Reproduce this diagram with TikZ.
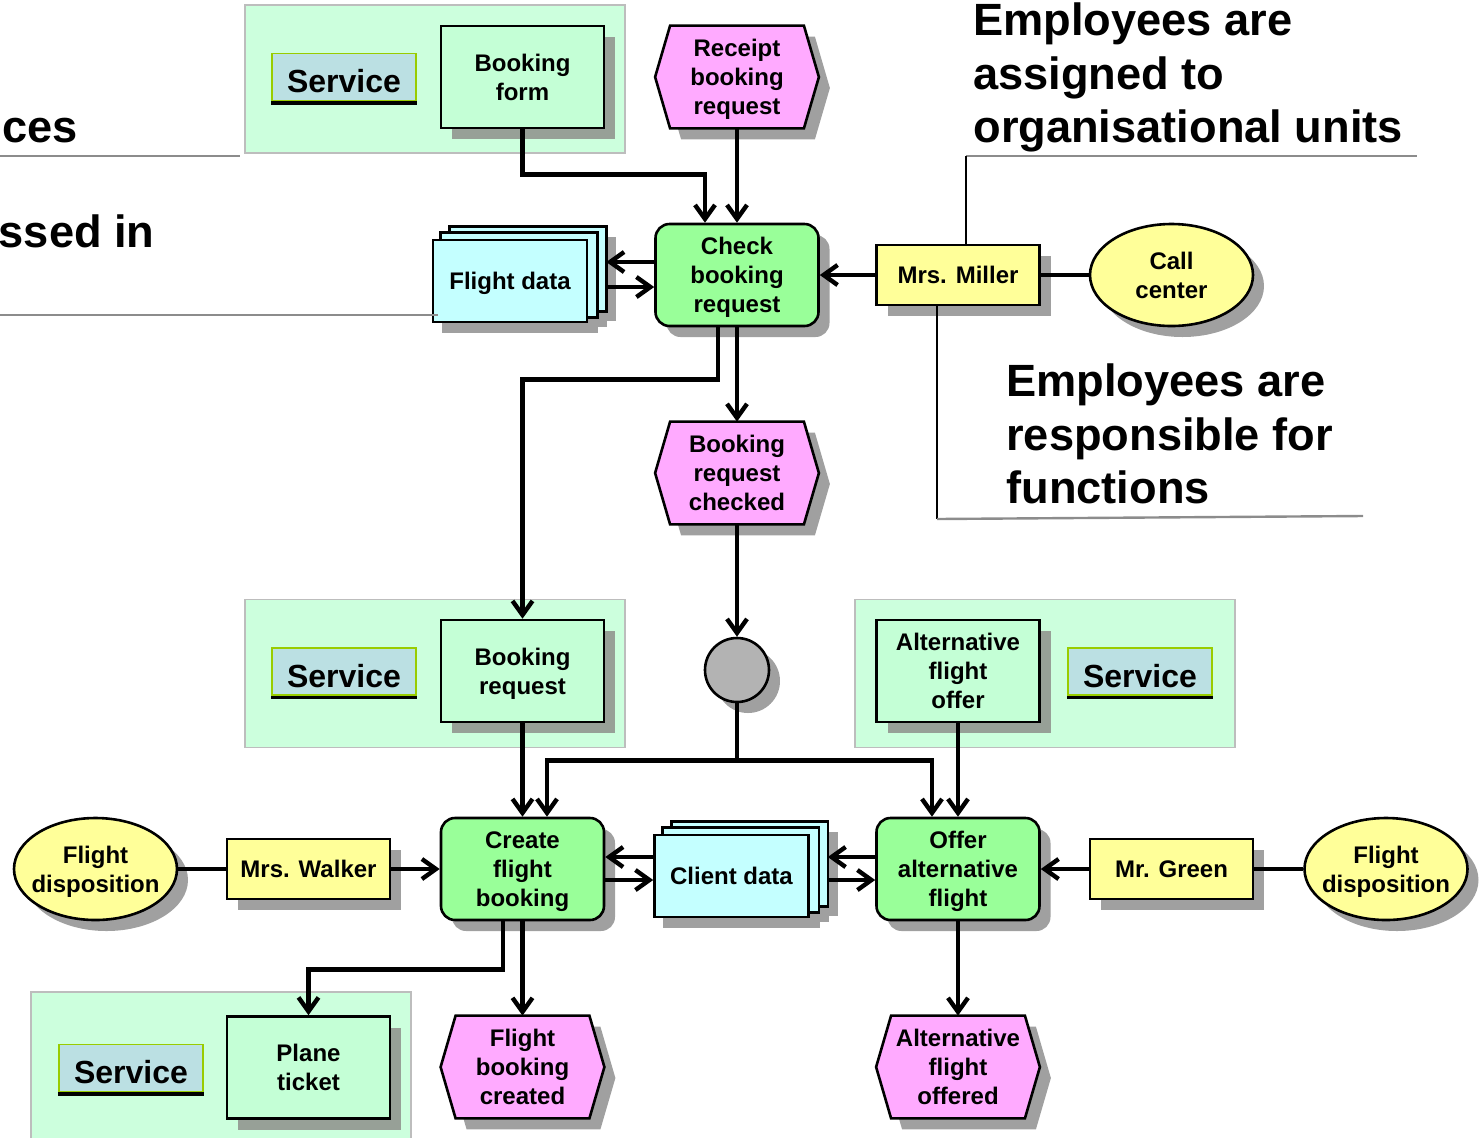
\documentclass[tikz,border=0pt]{standalone}
\usepackage{fontspec}
\setmainfont{Liberation Sans}
\usetikzlibrary{arrows.meta,shapes.geometric,shadows,backgrounds}
\definecolor{areagreen}{HTML}{CCFFDD}
\definecolor{areaborder}{HTML}{BDBDBD}
\definecolor{svcfill}{HTML}{C4FFD6}
\definecolor{lblfill}{HTML}{BBE0E3}
\definecolor{lblborder}{HTML}{99CC00}
\definecolor{fngreen}{HTML}{99FF99}
\definecolor{evpink}{HTML}{FFAAFF}
\definecolor{datacyan}{HTML}{C4FFFF}
\definecolor{orgyellow}{HTML}{FFFF99}
\definecolor{shd}{HTML}{A0A0A0}
\definecolor{shdg}{HTML}{97A097}
\definecolor{conngray}{HTML}{B3B3B3}
\definecolor{annot}{HTML}{8C8C8C}
\begin{document}
\begin{tikzpicture}[x=0.5pt,y=-0.5pt,
  txt/.style={font=\fontsize{12}{14.5}\selectfont\bfseries, align=center, inner sep=0pt, text depth=-0.4pt},
  shadowed/.style={drop shadow={shadow xshift=5.5pt,shadow yshift=-5.5pt,fill=#1,opacity=1}},
  shadowed/.default=shd,
  border/.style={draw=black, line width=1.3pt},
  area/.style={draw=areaborder, line width=0.8pt, fill=areagreen, minimum width=190pt, minimum height=74pt, inner sep=0pt},
  svclabel/.style={draw=lblborder, line width=0.7pt, fill=lblfill, minimum width=72pt, minimum height=23.5pt, inner sep=0pt, text height=15.5pt, text depth=0pt, font=\fontsize{16}{19}\selectfont\bfseries},
  svcbox/.style={txt, border, fill=svcfill, minimum width=81.5pt, minimum height=51pt, shadowed=shdg},
  func/.style={txt, border, fill=fngreen, rounded corners=7pt, minimum width=81.5pt, minimum height=51pt, shadowed},
  evt/.style={txt, minimum width=81.5pt, minimum height=51pt},
  hexline/.style={border, fill=evpink, shadowed},
  org/.style={txt, border, fill=orgyellow, minimum width=81.5pt, minimum height=30pt, shadowed},
  unit/.style={border, ellipse, fill=orgyellow, minimum width=81.5pt, minimum height=51pt, inner sep=0pt, shadowed},
  datanode/.style={txt, border, fill=datacyan, minimum width=77pt, minimum height=41pt},
  sheet/.style={border, fill=datacyan},
  conn/.style={line width=2.2pt, -{Straight Barb[length=7pt,width=10pt]}},
  link/.style={line width=2.2pt},
  annotline/.style={draw=annot, line width=1.2pt},
  thinline/.style={draw=black, line width=0.8pt},
  big/.style={font=\fontsize{22.6}{27}\selectfont\bfseries, inner sep=0pt}
]
\useasboundingbox (0,0) rectangle (1479,1137);

% service areas
\node[area] (a1) at (435,79) {};
\node[area] (a2) at (435,673.5) {};
\node[area] (a3) at (1045,673.5) {};
\node[area] (a4) at (221,1066) {};

% service labels
\node[svclabel] (sl1) at (344,77) {Service};
\node[svclabel] (sl2) at (344,671.5) {Service};
\node[svclabel] (sl3) at (1140,671.5) {Service};
\node[svclabel] (sl4) at (131,1068) {Service};
\foreach \s in {sl1,sl2,sl3,sl4}
  \draw[line width=1.8pt] ([yshift=-0.9pt]\s.south west) -- ([yshift=-0.9pt]\s.south east);

% service objects
\node[svcbox] (sb1) at (522.5,77) {Booking\\form};
\node[svcbox] (sb2) at (522.5,671) {Booking\\request};
\node[svcbox] (sb3) at (958,671) {Alternative\\flight\\offer};
\node[svcbox] (sb4) at (308.5,1067.5) {Plane\\ticket};

% functions
\node[func] (f1) at (737,275) {Check\\booking\\request};
\node[func] (f2) at (522.5,869) {Create\\flight\\booking};
\node[func] (f3) at (958,869) {Offer\\alternative\\flight};

% events
\node[evt] (e1) at (737,77) {Receipt\\booking\\request};
\node[evt] (e2) at (737,473) {Booking\\request\\checked};
\node[evt] (e3) at (522.5,1067) {Flight\\booking\\created};
\node[evt] (e4) at (958,1067) {Alternative\\flight\\offered};

% organisational units
\node[org] (o1) at (958,275) {Mrs. Miller};
\node[org] (o2) at (308.5,869) {Mrs. Walker};
\node[org] (o3) at (1171.5,869) {Mr. Green};
\node[unit, label={[txt]center:{Call\\center}}] (u1) at (1171.5,275) {};
\node[unit, label={[txt]center:{Flight\\disposition}}] (u2) at (95.5,869) {};
\node[unit, label={[txt]center:{Flight\\disposition}}] (u3) at (1386,869) {};

% connector (rule)
\node[circle, border, fill=conngray, minimum size=32pt, inner sep=0pt, shadowed] (c1) at (737,670) {};

% data
\node[datanode] (d1) at (510,281) {Flight data};
\node[datanode] (d2) at (731.5,876) {Client data};
\coordinate (d1r) at ([xshift=9pt]d1.east);
\coordinate (d2r) at ([xshift=9pt]d2.east);

\begin{scope}[on background layer]
  \foreach \e in {e1,e2,e3,e4}
    \path[hexline] (\e.west) -- ([xshift=7.5pt]\e.north west) -- ([xshift=-7.5pt]\e.north east)
      -- (\e.east) -- ([xshift=-7.5pt]\e.south east) -- ([xshift=7.5pt]\e.south west) -- cycle;
  \foreach \d in {d1,d2} {
    \foreach \sx/\sy in {5/-5,9.5/-2,14/1}
      \fill[shd] ([shift={(\sx pt,\sy pt)}]\d.south west) rectangle ([shift={(\sx pt,\sy pt)}]\d.north east);
    \path[sheet] ([shift={(9pt,6pt)}]\d.south west) rectangle ([shift={(9pt,6pt)}]\d.north east);
    \path[sheet] ([shift={(4.5pt,3pt)}]\d.south west) rectangle ([shift={(4.5pt,3pt)}]\d.north east);
  }
\end{scope}

% connectors
\draw[conn] (sb1.south) -- ++(0,45) -| ([xshift=-16pt]f1.north);
\draw[conn] (e1.south) -- (f1.north);
\draw[conn] ([yshift=6.5pt]f1.west) -- ([yshift=6.5pt]f1.west -| d1r);
\draw[conn] ([yshift=-6pt]f1.west -| d1r) -- ([yshift=-6pt]f1.west);
\draw[conn] (o1.west) -- (f1.east);
\draw[link] (o1.east) -- (u1.west);
\draw[conn] (f1.south) -- (e2.north);
\draw[conn] ([xshift=-9.5pt]f1.south) -- ++(0,52) -| (sb2.north);
\draw[conn] (e2.south) -- (c1.north);
\draw[conn] (sb2.south) -- (f2.north);
\draw[conn] (c1.south) -- ++(0,57) -| ([xshift=12.25pt]f2.north);
\draw[conn] (c1.south) -- ++(0,57) -| ([xshift=-13pt]f3.north);
\draw[conn] (sb3.south) -- (f3.north);
\draw[link] (u2.east) -- (o2.west);
\draw[conn] (o2.east) -- (f2.west);
\draw[conn] ([yshift=6pt]f2.east -| d2.west) -- ([yshift=6pt]f2.east);
\draw[conn] ([yshift=-5.5pt]f2.east) -- ([yshift=-5.5pt]f2.east -| d2.west);
\draw[conn] ([yshift=6pt]f3.west) -- ([yshift=6pt]f3.west -| d2r);
\draw[conn] ([yshift=-5.5pt]f3.west -| d2r) -- ([yshift=-5.5pt]f3.west);
\draw[conn] (o3.west) -- (f3.east);
\draw[link] (o3.east) -- (u3.west);
\draw[conn] ([xshift=-9.75pt]f2.south) -- ++(0,48) -| (sb4.north);
\draw[conn] (f2.south) -- (e3.north);
\draw[conn] (f3.south) -- (e4.north);

% annotations
\draw[annotline] (0,156) -- (240,156);
\draw[annotline] (0,315) -- (438,315);
\coordinate (t1) at (966,156);
\draw[annotline] (t1) -- (1417,156);
\draw[thinline] (t1) -- (t1 |- o1.north);
\coordinate (t2) at (937,519);
\draw[thinline] (t2 |- o1.south) -- (t2);
\draw[annotline] (t2) -- (1363,516);

\node[big, anchor=base east] (x1) at (78,142) {ces};
\node[big, anchor=base east] (x2) at (155,247) {ssed in};
\node[big, anchor=base west] (y1) at (973,35) {Employees are};
\node[big, anchor=base west] (y2) at (973,89) {assigned to};
\node[big, anchor=base west] (y3) at (973,142) {organisational units};
\node[big, anchor=base west] (z1) at (1006,396) {Employees are};
\node[big, anchor=base west] (z2) at (1006,450) {responsible for};
\node[big, anchor=base west] (z3) at (1006,503) {functions};
\end{tikzpicture}
\end{document}
